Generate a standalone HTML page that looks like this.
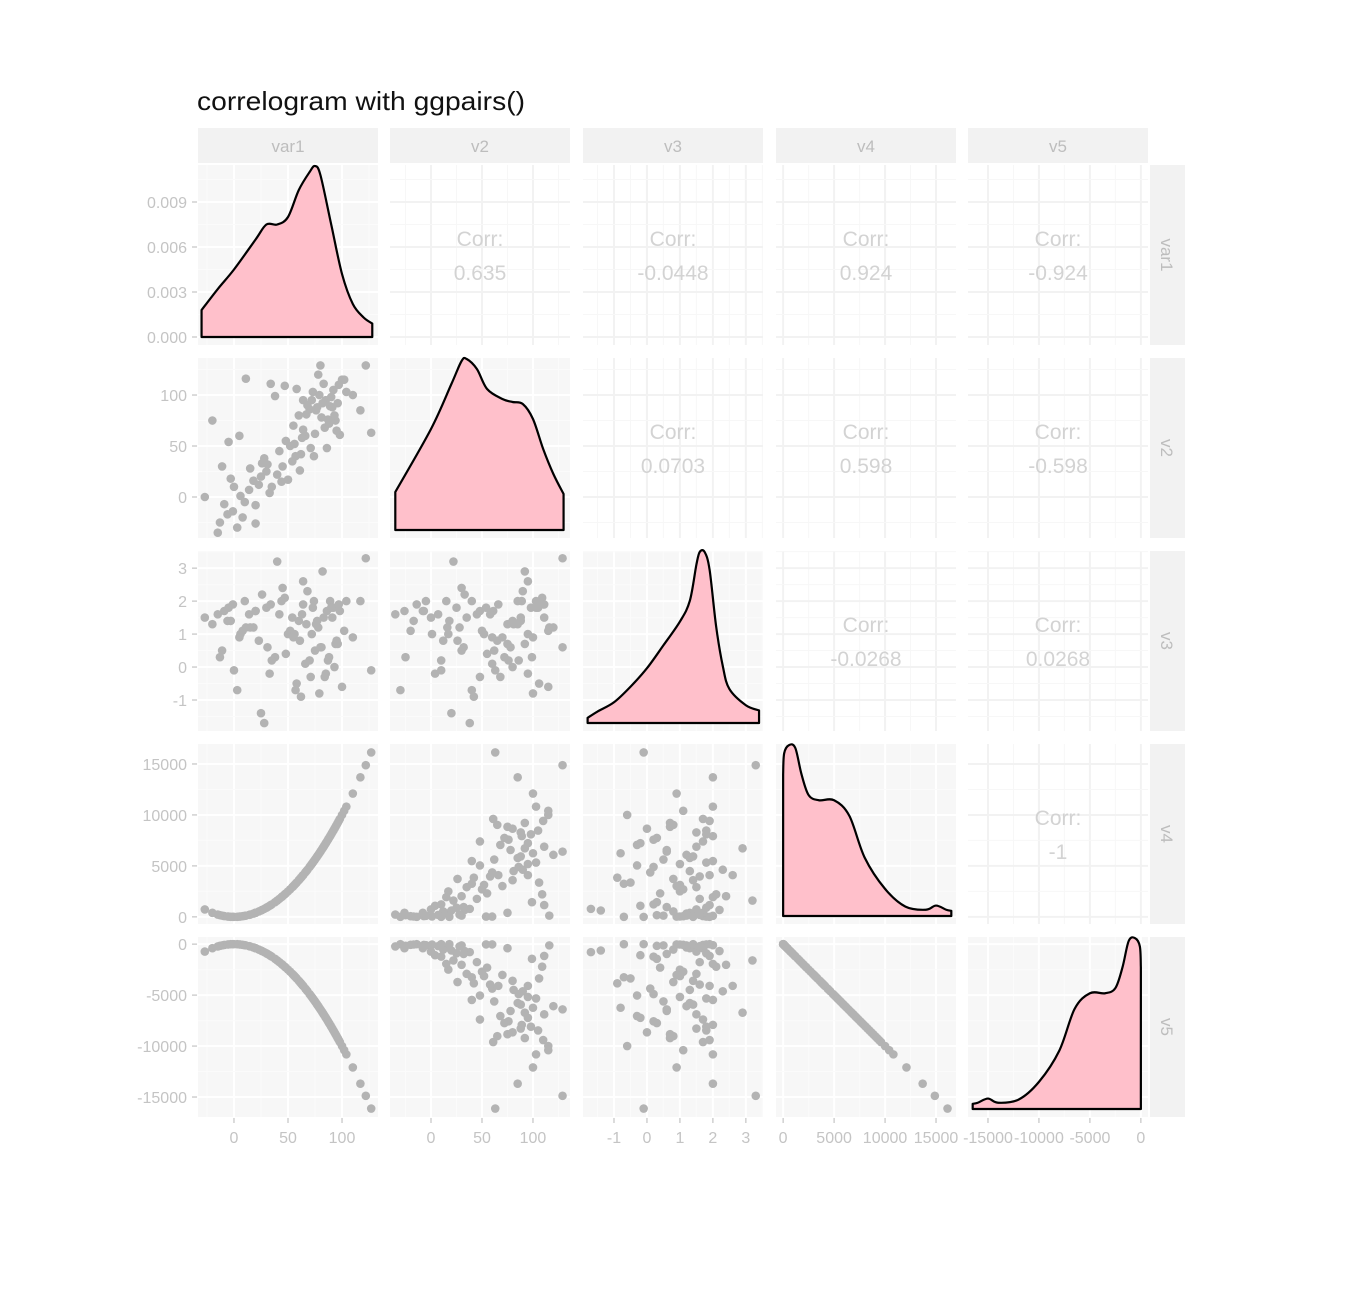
<!DOCTYPE html>
<html><head><meta charset="utf-8"><style>
html,body{margin:0;padding:0;background:#fff}
svg{display:block;font-family:"Liberation Sans",Arial,sans-serif}
</style></head><body>
<svg id="chart" width="1355" height="1293" viewBox="0 0 1355 1293" xmlns="http://www.w3.org/2000/svg">
<rect width="1355" height="1293" fill="#fff"/>
<text x="197" y="110" font-size="26" textLength="328" lengthAdjust="spacingAndGlyphs" fill="#111">correlogram with ggpairs()</text>
</svg>
<script>
// ---- data ----
const varNames = ['var1','v2','v3','v4','v5'];
const var1 = [-27,-20,-11,-5,5,11,-9,-1,3,-13,-6,6,14,18,23,20,26,30,33,34,38,47,50,54,57,61,64,67,70,73,58,64,78,80,83,85,89,92,94,98,102,104,117,122,127,10,15,25,28,35,40,42,45,48,52,55,60,62,66,68,72,75,76,79,81,82,84,86,88,90,91,93,95,97,100,8,0,-3,20,31,44,56,63,71,74,77,87,96,110,-15];
const v2 = [0,75,30,54,60,116,-7,-14,-30,-25,-17,1,7,16,12,-26,33,25,4,111,99,109,17,35,40,26,66,81,86,103,106,95,120,129,111,95,89,105,75,61,115,103,85,129,63,-5,28,20,38,10,22,45,30,55,50,70,80,42,60,90,95,62,85,100,78,92,68,48,72,98,88,80,65,110,115,-20,10,18,-8,32,15,52,58,48,40,88,76,92,100,-35];
const v3 = [1.5,1.3,0.5,1.8,0.9,1.2,1.7,1.9,-0.7,0.3,1.4,1.0,1.6,1.2,0.8,1.7,2.2,1.8,-0.2,1.9,0.3,2.1,1.0,1.5,-0.7,0.8,1.9,1.3,0.2,1.8,-0.5,2.6,1.2,0.6,1.5,-0.2,2.0,1.8,0.7,1.7,1.1,2.0,2.0,3.3,-0.1,2.0,1.2,-1.4,-1.7,0.2,3.2,1.6,2.4,0.4,1.1,0.9,1.4,-0.9,0.1,2.3,1.0,0.5,1.3,-0.8,0.6,2.9,-0.3,1.7,0.3,1.8,1.5,0.0,0.8,1.9,-0.6,1.1,-0.1,1.4,1.7,0.6,2.0,1.0,1.6,-0.3,2.0,1.4,0.2,0.7,0.9,1.6];
const densVar1X = [-30,-15,0,20,30,40,50,60,70,75,80,90,100,110,120,128];
const densVar1Y = [0.0018,0.0032,0.0045,0.0065,0.0075,0.0075,0.0080,0.0098,0.011,0.0114,0.0108,0.0075,0.0042,0.0022,0.0013,0.0009];
const densV2X = [-35,0,20,30,35,45,55,70,80,90,100,110,120,130];
const densV2Y = [0.0019,0.00505,0.0073,0.00845,0.00855,0.00805,0.00705,0.00655,0.0064,0.0063,0.00555,0.00405,0.0028,0.0018];
const densV3X = [-1.8,-1.5,-1,-0.5,0,0.5,1,1.3,1.5,1.6,1.75,1.9,2.1,2.3,2.5,3,3.4];
const densV3Y = [0.014,0.031,0.056,0.098,0.148,0.21,0.274,0.33,0.428,0.462,0.462,0.414,0.26,0.154,0.092,0.048,0.034];
const densV4X = [0,100,600,1200,1800,2500,3500,5000,6500,8000,10000,12000,14000,15000,16000,16500];
const densV4Y = [1.36e-4,1.56e-4,1.64e-4,1.61e-4,1.36e-4,1.16e-4,1.11e-4,1.11e-4,0.96e-4,0.56e-4,0.26e-4,0.09e-4,0.06e-4,0.10e-4,0.06e-4,0.05e-4];
const corrLabels = [[0,1,'0.635'],[0,2,'-0.0448'],[0,3,'0.924'],[0,4,'-0.924'],[1,2,'0.0703'],[1,3,'0.598'],[1,4,'-0.598'],[2,3,'-0.0268'],[2,4,'0.0268'],[3,4,'-1']];
const tickVar1 = [0,50,100], tickV2 = [0,50,100], tickV3 = [-1,0,1,2,3], tickV4 = [0,5000,10000,15000], tickV5 = [-15000,-10000,-5000,0];
const tickDens = [0,0.003,0.006,0.009], tickDensLabels = ['0.000','0.003','0.006','0.009'];
</script>
<script>
const svg = document.getElementById('chart');
const NS = 'http://www.w3.org/2000/svg';
const v4 = var1.map(a => a*a);
const v5 = v4.map(a => -a);
const cols = [var1, v2, v3, v4, v5];
const ticks = [tickVar1, tickV2, tickV3, tickV4, tickV5];
const domains = [[-33.3,133.3],[-40.2,136.3],[-1.94,3.52],[-700,16960],[-16960,700]];
const colX = [198,390,583,776,968], rowY = [165,358,551,744,937], P = 180;
const densDom = [-0.000533, 0.011467];
function el(tag, attrs, parent){ const e=document.createElementNS(NS,tag); for(const k in attrs) e.setAttribute(k,attrs[k]); (parent||svg).appendChild(e); return e; }
function sx(c,v){ const d=domains[c]; return colX[c]+(v-d[0])/(d[1]-d[0])*P; }
function sy(r,v){ const d=domains[r]; return rowY[r]+P-(v-d[0])/(d[1]-d[0])*P; }
function syDens(v){ return rowY[0]+P-(v-densDom[0])/(densDom[1]-densDom[0])*P; }
function minors(t, dom){ const s=t[1]-t[0]; const out=[]; for(let i=0;i<=t.length;i++){ const m=(i<t.length?t[i]:t[t.length-1]+s)-s/2; if(m>dom[0]&&m<dom[1]) out.push(m);} return out; }
const fmt = v => String(v);
function smooth(pts){
  let d='';
  for(let i=0;i<pts.length-1;i++){
    const p0=pts[Math.max(0,i-1)], p1=pts[i], p2=pts[i+1], p3=pts[Math.min(pts.length-1,i+2)];
    const c1x=p1[0]+(p2[0]-p0[0])/6, c1y=p1[1]+(p2[1]-p0[1])/6;
    const c2x=p2[0]-(p3[0]-p1[0])/6, c2y=p2[1]-(p3[1]-p1[1])/6;
    d+=` C${c1x},${c1y} ${c2x},${c2y} ${p2[0]},${p2[1]}`;
  }
  return d;
}

for(let c=0;c<5;c++){
  const g=el('g',{});
  
  
  el('rect',{x:colX[c],y:128,width:P,height:35,fill:'#f2f2f2'},g);
  const t=el('text',{x:colX[c]+P/2,y:152,'font-size':17,fill:'#bdbdbd','text-anchor':'middle'},g); t.textContent=varNames[c];
}
for(let r=0;r<5;r++){
  const g=el('g',{});
  
  
  el('rect',{x:1150,y:rowY[r],width:35,height:P,fill:'#f2f2f2'},g);
  const t=el('text',{x:0,y:0,'font-size':17,fill:'#bdbdbd','text-anchor':'middle',transform:`translate(1161,${rowY[r]+P/2}) rotate(90)`},g); t.textContent=varNames[r];
}

const densSets = [[densVar1X,densVar1Y],[densV2X,densV2Y],[densV3X,densV3Y],[densV4X,densV4Y],[densV4X.map(a=>-a).reverse(),densV4Y.slice().reverse()]];

for(let r=0;r<5;r++) for(let c=0;c<5;c++){
  const x0=colX[c], y0=rowY[r];
  const g=el('g',{});
  
  
  const upper = c>r;
  el('rect',{x:x0,y:y0,width:P,height:P,fill:upper?'#ffffff':'#f7f7f7'},g);
  const gridMaj = upper?'#f2f2f2':'#ffffff', gridMin = upper?'#f7f7f7':'#fbfbfb';
  minors(ticks[c],domains[c]).forEach(v=>el('line',{x1:sx(c,v),x2:sx(c,v),y1:y0,y2:y0+P,stroke:gridMin,'stroke-width':1},g));
  ticks[c].forEach(v=>el('line',{x1:sx(c,v),x2:sx(c,v),y1:y0,y2:y0+P,stroke:gridMaj,'stroke-width':2},g));
  if(r===0){
    minors(tickDens,densDom).forEach(v=>el('line',{x1:x0,x2:x0+P,y1:syDens(v),y2:syDens(v),stroke:gridMin,'stroke-width':1},g));
    tickDens.forEach(v=>el('line',{x1:x0,x2:x0+P,y1:syDens(v),y2:syDens(v),stroke:gridMaj,'stroke-width':2},g));
  } else {
    minors(ticks[r],domains[r]).forEach(v=>el('line',{x1:x0,x2:x0+P,y1:sy(r,v),y2:sy(r,v),stroke:gridMin,'stroke-width':1},g));
    ticks[r].forEach(v=>el('line',{x1:x0,x2:x0+P,y1:sy(r,v),y2:sy(r,v),stroke:gridMaj,'stroke-width':2},g));
  }
  if(r===c){
    const [dx,dy]=densSets[r];
    const mx=Math.max(...dy);
    const yf = r===0 ? (v=>syDens(v)) : (v=>y0+P-8-v/mx*171);
    const base=yf(0);
    const pts=dx.map((v,i)=>[sx(c,v),yf(dy[i])]);
    let d=`M${pts[0][0]},${base} L${pts[0][0]},${pts[0][1]}`+smooth(pts)+` L${pts[pts.length-1][0]},${base} Z`;
    const p=el('path',{d,fill:'#ffc0cb',stroke:'#000','stroke-width':2.2,'stroke-linejoin':'round'},g);
    
    
  } else if(c<r){
    const xs=cols[c], ys=cols[r];
    xs.forEach((v,i)=>{
      const pt=el('circle',{cx:sx(c,v),cy:sy(r,ys[i]),r:4.3,fill:'#b3b3b3'},g);
      
      
    });
  }
}
corrLabels.forEach(([r,c,val])=>{
  const cx=colX[c]+P/2, y0=rowY[r];
  const t1=el('text',{x:cx,y:y0+81,'font-size':21,fill:'#d3d3d3','text-anchor':'middle'});
  t1.textContent='Corr:';
  
  
  const t2=el('text',{x:cx,y:y0+115,'font-size':21,fill:'#d3d3d3','text-anchor':'middle'});
  t2.textContent=val;
  
  
});
for(let r=0;r<5;r++){
  const vals = r===0?tickDens:ticks[r];
  vals.forEach((v,i)=>{
    const y = r===0?syDens(v):sy(r,v);
    el('line',{x1:192,x2:197,y1:y,y2:y,stroke:'#c4c4c4','stroke-width':1.2});
    const t=el('text',{x:187,y:y+6,'font-size':16,fill:'#c4c4c4','text-anchor':'end'});
    t.textContent = r===0?tickDensLabels[i]:fmt(v);
    
    
  });
}
for(let c=0;c<5;c++){
  ticks[c].forEach(v=>{
    const x=sx(c,v);
    el('line',{x1:x,x2:x,y1:1118,y2:1123,stroke:'#c4c4c4','stroke-width':1.2});
    const t=el('text',{x:x,y:1143,'font-size':16,fill:'#c4c4c4','text-anchor':'middle'});
    t.textContent=fmt(v);
    
    
  });
}
</script>
</body></html>
